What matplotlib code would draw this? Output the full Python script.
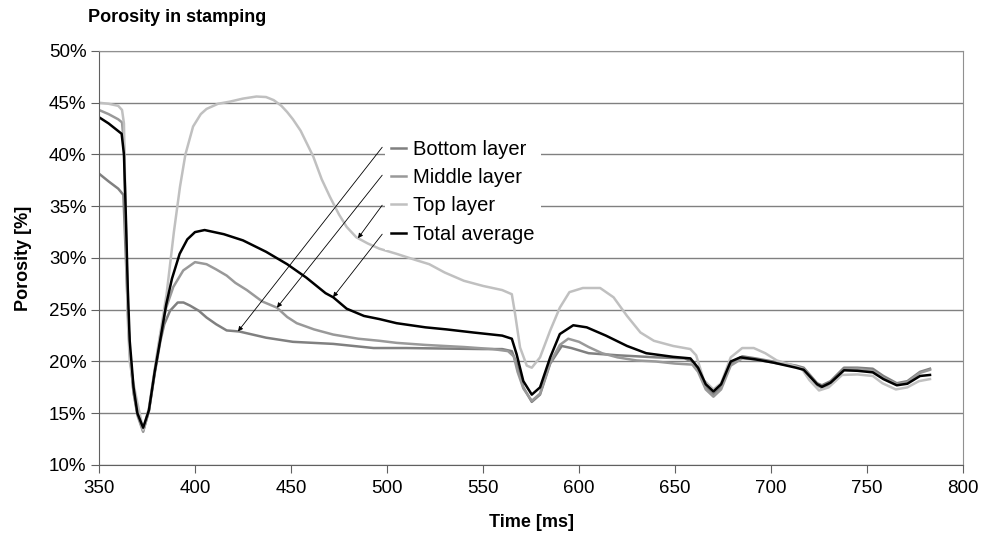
import numpy as np
import matplotlib
matplotlib.use('Agg')
import matplotlib.pyplot as plt
from matplotlib.ticker import PercentFormatter

plt.rcParams['font.family'] = ['Liberation Sans', 'DejaVu Sans']

# bottom layer
t_bottom = [350, 355, 360, 362.7, 364, 365, 366, 368, 370, 373, 376, 379, 382, 384, 387, 391,
            394, 397.4, 402, 406, 411, 416.5, 423, 437, 451, 472, 493, 510, 530, 550, 560, 565,
            567.5, 571, 575.4, 579.7, 585, 591, 596, 605, 620, 640, 655, 660, 663, 666, 670, 674,
            679, 685, 692, 701, 713, 717, 724, 726.5, 731, 738, 745, 753, 758.5, 765.5, 771,
            777.6, 782.8]
p_bottom = [38.15, 37.4, 36.7, 36.1, 30, 25, 21, 17, 15, 13.3, 15.2, 18.8, 22.0, 23.6, 24.9, 25.7,
            25.7, 25.4, 24.9, 24.25, 23.6, 23.0, 22.9, 22.3, 21.9, 21.7, 21.3, 21.3, 21.25, 21.2,
            21.2, 21.0, 19.8, 17.5, 16.1, 16.8, 19.8, 21.5, 21.3, 20.8, 20.6, 20.4, 20.3, 19.9,
            18.8, 17.5, 16.8, 17.5, 19.8, 20.5, 20.3, 20.0, 19.6, 19.4, 17.9, 17.7, 18.1, 19.4,
            19.4, 19.3, 18.6, 17.9, 18.1, 19.0, 19.3]

# middle layer
t_middle = [350, 355, 360, 362, 363, 364, 365, 366, 368, 370, 373, 376, 379, 382, 385, 388.7,
            393.9, 400, 406, 411, 416.5, 421, 427, 435, 442.7, 448, 453, 462, 472, 485, 496, 505,
            520, 540, 555, 563, 566, 568, 571, 575.4, 579.7, 585, 590, 594.4, 600, 605, 612, 620,
            630, 640, 650, 659, 662, 666, 670, 674, 679, 685, 692, 701, 713, 717, 724, 726.5, 731,
            738, 745, 753, 758.5, 765.5, 771, 777.6, 782.8]
p_middle = [44.3, 43.9, 43.4, 43.1, 41, 33, 25, 21, 17, 14.8, 13.2, 15.3, 19, 22.6, 25.2, 27.2,
            28.8, 29.6, 29.4, 28.9, 28.3, 27.6, 26.9, 25.8, 25.2, 24.3, 23.7, 23.1, 22.6, 22.2,
            22.0, 21.8, 21.6, 21.4, 21.2, 21.0, 20.5, 19.0, 17.4, 16.2, 16.9, 19.9, 21.6, 22.2,
            21.9, 21.4, 20.8, 20.4, 20.1, 20.0, 19.8, 19.7, 19.0, 17.3, 16.6, 17.3, 19.6, 20.3,
            20.2, 19.9, 19.5, 19.3, 17.7, 17.4, 17.8, 19.2, 19.3, 19.1, 18.4, 17.8, 18.0, 18.9, 19.2]

# top layer
t_top = [350, 355, 360, 362, 363, 364, 365, 366, 367.5, 370, 373, 376, 380, 385.2, 389, 392.2,
         395, 399, 403, 406, 412, 418, 425, 432, 437, 441, 445, 448, 451, 455, 461.6, 466, 470.3,
         475, 479, 484, 490, 496, 505, 515, 522, 530, 540, 550, 560, 565, 566.7, 569.3, 572.8,
         575.4, 579.7, 585, 590, 595, 602, 611, 618, 625, 632, 639, 649, 658, 661, 665, 670, 674,
         679, 685, 691, 697, 703, 710, 716, 720, 725, 730, 737, 745, 753, 758, 765, 771, 777, 782.8]
p_top = [45.0, 44.9, 44.7, 44.3, 43.0, 33, 24, 20, 18.3, 16, 13.4, 15.5, 20.5, 26.5, 32.5, 36.9,
         40.0, 42.7, 43.9, 44.4, 44.9, 45.1, 45.4, 45.6, 45.55, 45.25, 44.7, 44.1, 43.4, 42.3,
         39.8, 37.6, 35.9, 34.2, 33.0, 32.0, 31.4, 30.9, 30.4, 29.8, 29.4, 28.6, 27.8, 27.3, 26.9,
         26.5, 24.6, 21.35, 19.6, 19.4, 20.4, 23.0, 25.2, 26.7, 27.1, 27.1, 26.2, 24.4, 22.8, 22.0,
         21.5, 21.2, 20.6, 18.2, 17.3, 17.9, 20.4, 21.3, 21.3, 20.8, 20.1, 19.7, 19.3, 18.2, 17.2,
         17.5, 18.7, 18.75, 18.6, 17.9, 17.3, 17.5, 18.1, 18.3]

# total average
t_total = [350, 355, 361.8, 363, 364, 365, 366, 368, 370, 373, 376, 379, 382, 385, 388, 392, 396,
           400, 405, 410, 415, 425, 437, 448, 458, 468, 472, 479, 488, 496, 505, 520, 531, 545,
           560, 565, 567.5, 571, 575.4, 579.7, 585, 590, 597, 604, 614, 625, 635, 649, 658, 662,
           666, 670, 674, 679, 684, 692, 701, 713, 717, 724, 726.5, 731, 738, 745, 753, 758.5,
           765.5, 771, 777.6, 782.8]
p_total = [43.6, 43.0, 42.0, 40.0, 34, 27, 22, 17.5, 15, 13.6, 15.3, 19, 22.2, 25.5, 28.0, 30.4,
           31.8, 32.5, 32.7, 32.5, 32.3, 31.7, 30.6, 29.4, 28.1, 26.6, 26.2, 25.1, 24.4, 24.1, 23.7,
           23.3, 23.1, 22.8, 22.5, 22.2, 20.7, 18.1, 16.8, 17.5, 20.4, 22.65, 23.5, 23.3, 22.5,
           21.5, 20.8, 20.45, 20.3, 19.4, 17.8, 17.1, 17.8, 20.0, 20.4, 20.2, 19.9, 19.4, 19.2,
           17.8, 17.55, 17.95, 19.15, 19.1, 18.95, 18.3, 17.7, 17.85, 18.6, 18.7]

labels = ['Bottom layer', 'Middle layer', 'Top layer', 'Total average']
colors = ['#808080', '#999999', '#c0c0c0', 'black']
series = [(t_bottom, p_bottom), (t_middle, p_middle), (t_top, p_top), (t_total, p_total)]

# where the leader arrows touch each curve (ms)
arrow_t = [422.4, 442.7, 484.9, 471.9]
arrow_start = [(497.5, 40.7), (497.5, 38.0), (497.5, 35.1), (497.5, 32.3)]

fig = plt.figure(figsize=(9.84, 5.40), dpi=100)
ax = fig.add_axes([0.1006, 0.1389, 0.8781, 0.7667])

for (t, p), lab, col in zip(series, labels, colors):
    ax.plot(t, p, color=col, lw=1.8, label=lab, solid_joinstyle='round')

for (t, p), at, st in zip(series, arrow_t, arrow_start):
    ax.annotate('', xy=(at, np.interp(at, t, p)), xytext=st,
                arrowprops=dict(arrowstyle='-|>', color='black', lw=0.6,
                                mutation_scale=7, shrinkA=0, shrinkB=0), zorder=5)

ax.set_xlim(350, 800)
ax.set_ylim(10, 50)
ax.set_xticks(range(350, 801, 50))
ax.set_yticks(range(10, 51, 5))
ax.yaxis.set_major_formatter(PercentFormatter(decimals=0))
ax.grid(axis='y', color='#808080', lw=1)
ax.set_axisbelow(True)
for s in ['left', 'bottom']:
    ax.spines[s].set_color('#606060')
for s in ['top', 'right']:
    ax.spines[s].set_color('#909090')
ax.tick_params(axis='both', direction='out', length=6, color='#606060', labelsize=13.5)
ax.tick_params(axis='y', pad=3)
ax.tick_params(axis='x', pad=5)

ax.set_xlabel('Time [ms]', fontsize=13, fontweight='bold', labelpad=12)
ax.set_ylabel('Porosity [%]', fontsize=13, fontweight='bold', labelpad=12)
fig.text(0.0894, 0.967, 'Porosity in stamping', fontsize=13, fontweight='bold',
         ha='left', va='center')

leg = ax.legend(loc='upper left', bbox_to_anchor=(0.3195, 0.823), fontsize=14.5,
                frameon=True, facecolor='white', edgecolor='none', framealpha=1,
                fancybox=False, handlelength=0.75, handletextpad=0.35, labelspacing=0.45,
                borderpad=0.3)
leg.set_zorder(4)

fig.savefig('out.png', dpi=100)
